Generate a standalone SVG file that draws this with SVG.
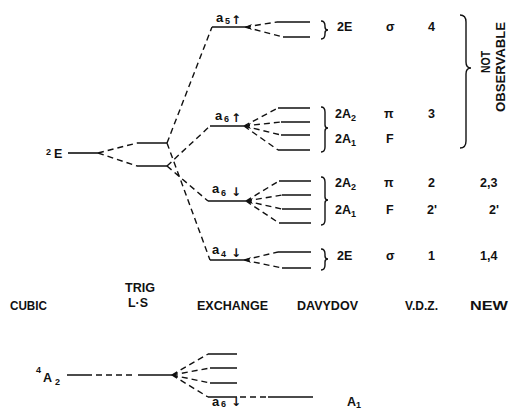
<svg xmlns="http://www.w3.org/2000/svg" width="510" height="409" viewBox="0 0 510 409">
<style>
  text { font-family: "Liberation Sans", Arial, sans-serif; fill: #111; font-weight: bold; }
  .lbl { font-size: 12.5px; }
  .hdr { font-size: 13px; }
  .sub { font-size: 9px; }
  .lv { font-size: 13px; }
  .ar { font-size: 12px; font-family: "DejaVu Sans", sans-serif; }
  .solid { stroke: #111; stroke-width: 1.6; fill: none; }
  .dash { stroke: #111; stroke-width: 1.4; fill: none; stroke-dasharray: 6 4; }
  .brace { stroke: #111; stroke-width: 1.4; fill: none; }
</style>
<defs>
  <path id="tip" d="M0,0 L7,-3 L5,0 L7,3 Z" fill="#111"/>
</defs>
<rect width="510" height="409" fill="#fff"/>

<g id="connectors">
  <!-- 2E -->
  <path class="solid" d="M68,153 H98"/>
  <path class="dash" d="M98,153 L137,143 M98,153 L137,166"/>
  <path class="solid" d="M137,143 H167 M137,166 H167"/>
  <path class="dash" d="M167,143 L212,27 M167,143 L210,260 M167,166 L210,126 M167,166 L208,201"/>
  <!-- exchange levels -->
  <path class="solid" d="M212,27 H245 M210,126 H244 M208,201 H246 M210,260 H244"/>
  <!-- davydov fans -->
  <path class="dash" d="M245,27 L277,22 M245,27 L283,37"/>
  <path class="solid" d="M277,22 H310 M283,37 H310"/>
  <path class="dash" d="M244,126 L278,108 M244,126 L281,122 M244,126 L281,135 M244,126 L278,150"/>
  <path class="solid" d="M278,108 H310 M281,122 H310 M281,135 H310 M278,150 H310"/>
  <path class="dash" d="M246,201 L279,181 M246,201 L282,195 M246,201 L282,209 M246,201 L279,223"/>
  <path class="solid" d="M279,181 H311 M282,195 H311 M282,209 H311 M279,223 H311"/>
  <path class="dash" d="M244,260 L278,252 M244,260 L282,268"/>
  <path class="solid" d="M278,252 H311 M282,268 H311"/>
  <!-- 4A2 -->
  <path class="solid" d="M67,375 H92 M138,375 H172"/>
  <path class="dash" d="M96,375 H135"/>
  <path class="dash" d="M172,375 L208,354 M172,375 L210,368 M172,375 L210,383 M172,375 L208,397"/>
  <path class="solid" d="M208,354 H237 M210,368 H237 M210,383 H237 M208,397 H237 M268,397 H313"/>
  <path class="dash" d="M240,397 H266"/>
  <!-- fan tips -->
  <use href="#tip" x="244" y="126"/>
  <use href="#tip" x="246" y="201"/>
  <use href="#tip" x="245" y="27"/>
  <use href="#tip" x="244" y="260"/>
  <use href="#tip" x="171" y="375"/>
  <!-- braces -->
  <path class="brace" d="M321,21 Q325,21 325,26 L325,27 Q325,30 328,30 Q325,30 325,33 L325,34 Q325,39 321,39"/>
  <path class="brace" d="M321,107 Q325,107 325,112 L325,125 Q325,128 328,128 Q325,128 325,131 L325,147 Q325,152 321,152"/>
  <path class="brace" d="M321,177 Q325,177 325,182 L325,197 Q325,200 328,200 Q325,200 325,203 L325,220 Q325,225 321,225"/>
  <path class="brace" d="M321,249 Q325,249 325,254 L325,256 Q325,259 328,259 Q325,259 325,262 L325,265 Q325,270 321,270"/>
  <path class="brace" d="M460,15 Q466,15 466,22 L466,62 Q466,68 471,68 Q466,68 466,74 L466,141 Q466,148 460,148"/>
</g>

<g id="n-2E"><text class="sub" x="46" y="155">2</text><text class="lbl" x="54" y="158" font-size="13">E</text></g>
<g id="n-4A2"><text class="sub" x="36" y="373">4</text><text class="lbl" x="43" y="382">A</text><text class="sub" x="55" y="385">2</text></g>

<g id="n-a5up"><text class="lv" x="216" y="22">a</text><text class="sub" x="225" y="24">5</text><text class="ar" x="231" y="24">↑</text></g>
<g id="n-a6up"><text class="lv" x="215" y="120">a</text><text class="sub" x="224" y="122">6</text><text class="ar" x="231" y="122">↑</text></g>
<g id="n-a6dn"><text class="lv" x="212" y="193">a</text><text class="sub" x="221" y="196">6</text><text class="ar" x="231" y="196">↓</text></g>
<g id="n-a4dn"><text class="lv" x="212" y="254">a</text><text class="sub" x="221" y="257">4</text><text class="ar" x="231" y="257">↓</text></g>
<g id="n-a6dn2"><text class="lv" x="212" y="406">a</text><text class="sub" x="221" y="407">6</text><text class="ar" x="231" y="406" font-size="10">↓</text></g>

<g id="n-row1">
  <text class="lbl" x="337" y="31">2E</text>
  <text class="lbl" x="386" y="31">σ</text>
  <text class="lbl" x="428" y="31">4</text>
</g>
<g id="n-row2">
  <text class="lbl" x="335" y="118">2A<tspan class="sub" dy="3">2</tspan></text>
  <text class="lbl" x="384" y="118">π</text>
  <text class="lbl" x="428" y="118">3</text>
</g>
<g id="n-row3">
  <text class="lbl" x="335" y="143">2A<tspan class="sub" dy="3">1</tspan></text>
  <text class="lbl" x="386" y="143">F</text>
</g>
<g id="n-row4">
  <text class="lbl" x="335" y="187">2A<tspan class="sub" dy="3">2</tspan></text>
  <text class="lbl" x="384" y="187">π</text>
  <text class="lbl" x="428" y="187">2</text>
  <text class="lbl" x="480" y="187">2,3</text>
</g>
<g id="n-row5">
  <text class="lbl" x="335" y="214">2A<tspan class="sub" dy="3">1</tspan></text>
  <text class="lbl" x="386" y="214">F</text>
  <text class="lbl" x="427" y="214">2'</text>
  <text class="lbl" x="489" y="214">2'</text>
</g>
<g id="n-row6">
  <text class="lbl" x="337" y="260">2E</text>
  <text class="lbl" x="386" y="260">σ</text>
  <text class="lbl" x="428" y="260">1</text>
  <text class="lbl" x="480" y="260">1,4</text>
</g>
<g id="n-A1"><text class="lbl" x="347" y="406">A<tspan class="sub" dy="2">1</tspan></text></g>

<g id="n-notobs">
  <text class="lbl" x="490" y="62" text-anchor="middle" transform="rotate(-90 490 62)" textLength="22" lengthAdjust="spacingAndGlyphs">NOT</text>
  <text class="lbl" x="505" y="67" text-anchor="middle" transform="rotate(-90 505 67)" textLength="90" lengthAdjust="spacingAndGlyphs">OBSERVABLE</text>
</g>

<g id="n-headers">
  <text class="hdr" x="10" y="310" textLength="37" lengthAdjust="spacingAndGlyphs">CUBIC</text>
  <text class="hdr" x="125" y="292" font-size="12" textLength="30" lengthAdjust="spacingAndGlyphs">TRIG</text>
  <text class="hdr" x="128" y="307" font-size="12" textLength="20" lengthAdjust="spacingAndGlyphs">L·S</text>
  <text class="hdr" x="197" y="310" textLength="71" lengthAdjust="spacingAndGlyphs">EXCHANGE</text>
  <text class="hdr" x="297" y="310" textLength="61" lengthAdjust="spacingAndGlyphs">DAVYDOV</text>
  <text class="hdr" x="405" y="310" textLength="33" lengthAdjust="spacingAndGlyphs">V.D.Z.</text>
  <text class="hdr" x="470" y="310" textLength="38" lengthAdjust="spacingAndGlyphs">NEW</text>
</g>
</svg>
